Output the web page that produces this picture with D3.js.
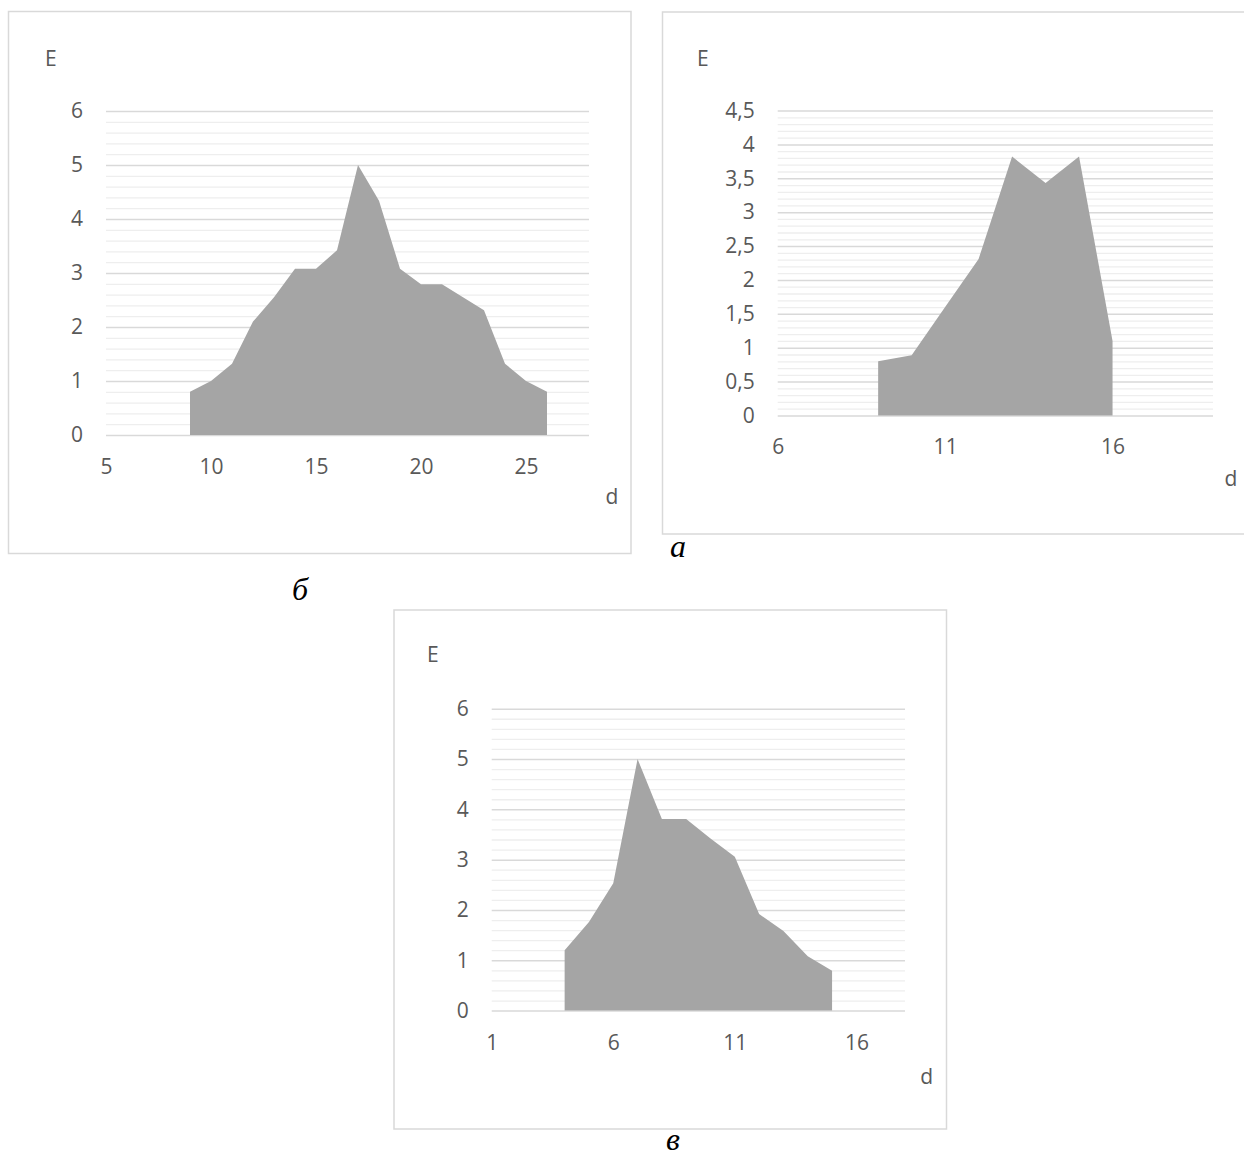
<!DOCTYPE html>
<html>
<head>
<meta charset="utf-8">
<script src="https://cdn.jsdelivr.net/npm/d3@7"></script>
<style>
  html, body { margin: 0; padding: 0; background: #ffffff; }
  svg { display: block; }
  .tick text, .axis-title { font-family: "Open Sans", "Noto Sans", sans-serif; fill: #595959; }
  .caption { font-family: "Liberation Serif", "Times New Roman", serif; font-style: italic; fill: #000; }
</style>
</head>
<body>
<svg id="fig" width="1244" height="1158"></svg>
<script>
// Panel б
const dB = [9, 10, 11, 12, 13, 14, 15, 16, 17, 18, 19, 20, 21, 22, 23, 24, 25, 26];
const eB = [0.8, 1.0, 1.32, 2.1, 2.55, 3.08, 3.08, 3.42, 5.0, 4.34, 3.08, 2.79, 2.79, 2.55, 2.31, 1.32, 1.0, 0.8];
const xTicksB = [5, 10, 15, 20, 25];
const yTicksB = [0, 1, 2, 3, 4, 5, 6];

// Panel а
const dA = [9, 10, 11, 12, 13, 14, 15, 16];
const eA = [0.8, 0.89, 1.6, 2.31, 3.82, 3.43, 3.82, 1.1];
const xTicksA = [6, 11, 16];
const yTicksA = [0, 0.5, 1, 1.5, 2, 2.5, 3, 3.5, 4, 4.5];

// Panel в
const dV = [4, 5, 6, 7, 8, 9, 10, 11, 12, 13, 14, 15];
const eV = [1.2, 1.76, 2.53, 5.0, 3.81, 3.81, 3.42, 3.06, 1.92, 1.58, 1.08, 0.79];
const xTicksV = [1, 6, 11, 16];
const yTicksV = [0, 1, 2, 3, 4, 5, 6];

const svg = d3.select("#fig");
const fmt = v => String(v).replace(".", ",");
const FS = 21;

function panel(o) {
  const g = svg.append("g");

  // outer frame of the chart
  g.append("rect")
    .attr("x", o.frame[0]).attr("y", o.frame[1])
    .attr("width", o.frame[2] - o.frame[0]).attr("height", o.frame[3] - o.frame[1])
    .attr("fill", "#fff").attr("stroke", "#d9d9d9").attr("stroke-width", 1.5);

  const x = d3.scaleLinear().domain(o.xDomain).range([o.plot[0], o.plot[2]]);
  const y = d3.scaleLinear().domain(o.yDomain).range([o.plot[3], o.plot[1]]);
  const w = o.plot[2] - o.plot[0];

  // minor gridlines (five steps per major interval)
  const step = o.yTicks[1] - o.yTicks[0];
  const minor = d3.range(o.yDomain[0], o.yDomain[1] + 1e-9, step / 5)
    .filter(v => Math.abs(v / step - Math.round(v / step)) > 1e-6);
  g.append("g")
    .attr("transform", `translate(${o.plot[0]},0)`)
    .call(d3.axisLeft(y).tickValues(minor).tickSize(-w).tickFormat(""))
    .call(s => s.select(".domain").remove())
    .call(s => s.selectAll("line").attr("stroke", "#eeeeee").attr("stroke-width", 1.3));

  // major gridlines
  g.append("g")
    .attr("transform", `translate(${o.plot[0]},0)`)
    .call(d3.axisLeft(y).tickValues(o.yTicks).tickSize(-w).tickFormat(""))
    .call(s => s.select(".domain").remove())
    .call(s => s.selectAll("line").attr("stroke", "#d9d9d9").attr("stroke-width", 1.5));

  // filled area
  const pts = o.d.map((d, i) => [d, o.e[i]]);
  g.append("path")
    .datum(pts)
    .attr("fill", "#a5a5a5")
    .attr("d", d3.area().x(p => x(p[0])).y0(y(0)).y1(p => y(p[1])));

  // y tick labels
  g.append("g")
    .attr("transform", `translate(${o.plot[0]},0)`)
    .call(d3.axisLeft(y).tickValues(o.yTicks).tickSize(0).tickPadding(23).tickFormat(fmt))
    .call(s => s.select(".domain").remove())
    .call(s => s.selectAll("text").attr("font-size", FS).attr("font-family", null));

  // x tick labels
  g.append("g")
    .attr("transform", `translate(0,${o.plot[3]})`)
    .call(d3.axisBottom(x).tickValues(o.xTicks).tickSize(0).tickPadding(24).tickFormat(fmt))
    .call(s => s.select(".domain").remove())
    .call(s => s.selectAll("text").attr("font-size", FS).attr("font-family", null));

  // axis titles
  g.append("text").attr("class", "axis-title")
    .attr("x", o.eLabel[0]).attr("y", o.eLabel[1]).attr("dy", "0.35em")
    .attr("font-size", FS).text("E");
  g.append("text").attr("class", "axis-title")
    .attr("x", o.dLabel[0]).attr("y", o.dLabel[1]).attr("dy", "0.35em")
    .attr("text-anchor", "middle").attr("font-size", FS).text("d");

  // panel letter
  g.append("text").attr("class", "caption")
    .attr("x", o.caption[0]).attr("y", o.caption[1])
    .attr("text-anchor", "middle").attr("font-size", 32).text(o.letter);
}

panel({
  frame: [8.5, 11.5, 631, 553.5],
  plot: [106, 111, 589, 435],
  xDomain: [5, 28], yDomain: [0, 6],
  xTicks: xTicksB, yTicks: yTicksB,
  d: dB, e: eB,
  eLabel: [45, 59], dLabel: [612, 497],
  caption: [300, 600], letter: "б"
});

panel({
  frame: [662.5, 12, 1252, 534],
  plot: [777.7, 110.5, 1213, 415.5],
  xDomain: [6, 19], yDomain: [0, 4.5],
  xTicks: xTicksA, yTicks: yTicksA,
  d: dA, e: eA,
  eLabel: [697, 59], dLabel: [1231, 479],
  caption: [678, 557], letter: "а"
});

panel({
  frame: [394, 610, 946.5, 1129],
  plot: [491.7, 708.7, 905, 1010.6],
  xDomain: [1, 18], yDomain: [0, 6],
  xTicks: xTicksV, yTicks: yTicksV,
  d: dV, e: eV,
  eLabel: [427, 655], dLabel: [926.7, 1077],
  caption: [673, 1150], letter: "в"
});
</script>
</body>
</html>
